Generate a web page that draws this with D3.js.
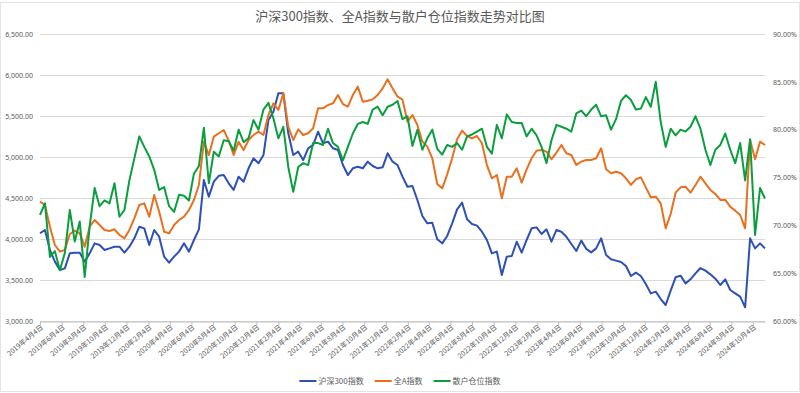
<!DOCTYPE html>
<html>
<head>
<meta charset="utf-8">
<script src="https://cdn.jsdelivr.net/npm/d3@7"></script>
<style>
  body { margin: 0; background: #fff; }
  text { font-family: "Noto Sans CJK SC", "Noto Sans", sans-serif; }
</style>
</head>
<body>
<svg id="chart" width="800" height="393"></svg>
<script>
// biweekly readings, first point 2019-04-04
const startDate = '2019-04-04';
const stepDays = 14;

const hs300 = [
  4070, 4110, 3866, 3724, 3622, 3642, 3825, 3833, 3833, 3724,
  3825, 3947, 3927, 3866, 3886, 3906, 3906, 3833, 3906, 4008,
  4150, 4130, 3927, 4110, 4028, 3785, 3711, 3785, 3846, 3947,
  3846, 3988, 4118, 4720, 4516, 4699, 4770, 4780, 4679, 4598,
  4760, 4699, 4862, 4984, 4923, 5024, 5451, 5553, 5776, 5776,
  5289, 5024, 5065, 4963, 5106, 5146, 5309, 5167, 5187, 5106,
  5085, 4902, 4780, 4862, 4882, 4862, 4943, 4890, 4862, 4874,
  5045, 4943, 4902, 4760, 4638, 4646, 4476, 4280, 4191, 4199,
  3996, 3947, 4037, 4191, 4362, 4443, 4240, 4183, 4163, 4089,
  3988, 3825, 3846, 3561, 3785, 3793, 3967, 3833, 3988, 4130,
  4142, 4061, 4118, 3967, 4110, 4089, 4028, 3939, 3854, 3980,
  3880, 3837, 3886, 4008, 3805, 3752, 3736, 3720, 3671, 3549,
  3589, 3549, 3451, 3337, 3358, 3268, 3195, 3370, 3533, 3553,
  3459, 3508, 3581, 3646, 3614, 3569, 3516, 3439, 3508, 3378,
  3337, 3297, 3167, 4008, 3886, 3947, 3886
];

const allA = [
  4455, 4415, 4150, 3927, 3846, 3866, 4061, 4102, 4069, 3906,
  4150, 4232, 4171, 4110, 4098, 4118, 4049, 4008, 4110, 4252,
  4415, 4435, 4272, 4537, 4333, 4089, 4069, 4171, 4232, 4272,
  4354, 4476, 4659, 5187, 5024, 5248, 5290, 5329, 5199, 5024,
  5187, 5085, 5207, 5268, 5309, 5268, 5512, 5654, 5573, 5776,
  5370, 5207, 5337, 5268, 5289, 5350, 5594, 5594, 5634, 5654,
  5756, 5646, 5614, 5756, 5858, 5675, 5687, 5703, 5756, 5837,
  5947, 5837, 5736, 5700, 5431, 5512, 5390, 5187, 5126, 4984,
  4671, 4618, 4789, 4984, 5215, 5321, 5256, 5228, 5256, 5167,
  4902, 4740, 4780, 4496, 4760, 4760, 4862, 4687, 4850, 4984,
  5077, 5085, 5065, 4972, 5053, 5146, 5045, 5024, 4902, 4943,
  4963, 4963, 4984, 5106, 4850, 4801, 4821, 4801, 4740, 4659,
  4728, 4752, 4630, 4508, 4516, 4435, 4130, 4305, 4565, 4630,
  4638, 4565, 4659, 4760, 4679, 4598, 4549, 4476, 4476, 4394,
  4346, 4293, 4130, 5207, 4972, 5187, 5146
];

// percent, right axis
const retailPos = [
  71.1, 72.3, 66.7, 67.3, 65.3, 67.1, 71.6, 68.3, 70.4, 64.6,
  69.9, 73.9, 72.0, 72.6, 72.3, 74.4, 70.9, 71.6, 74.7, 77.0,
  79.3, 78.2, 77.2, 75.8, 73.7, 74.0, 72.0, 71.4, 73.2, 73.1,
  72.6, 75.4, 76.2, 80.2, 74.4, 77.7, 77.2, 78.9, 78.8, 77.8,
  80.0, 78.7, 79.1, 81.0, 80.0, 82.1, 82.8, 81.2, 79.1, 80.3,
  76.1, 73.5, 76.1, 76.5, 76.3, 78.6, 78.6, 78.4, 80.1, 78.6,
  78.2, 76.8, 78.2, 79.6, 80.6, 80.8, 80.6, 82.1, 82.4, 81.5,
  82.4, 82.6, 83.0, 81.1, 81.4, 78.3, 80.0, 77.9, 79.1, 80.0,
  78.0, 77.4, 78.4, 78.2, 78.6, 77.9, 79.3, 79.5, 79.8, 80.1,
  78.2, 77.5, 80.5, 79.1, 81.6, 80.8, 80.7, 80.7, 79.3, 80.1,
  79.4, 78.2, 76.5, 78.9, 80.5, 80.3, 80.1, 79.8, 81.7, 82.0,
  81.4, 82.1, 82.6, 81.4, 81.5, 80.0, 81.1, 83.0, 83.6, 83.1,
  82.1, 82.2, 83.4, 82.4, 85.0, 80.8, 78.2, 80.1, 79.4, 80.0,
  79.8, 80.3, 81.4, 80.1, 77.9, 76.3, 77.9, 78.4, 79.6, 77.9,
  76.5, 78.6, 74.7, 79.0, 69.0, 73.9, 72.8
];

const tickDates = [
  '2019-04-04', '2019-06-04', '2019-08-04', '2019-10-04', '2019-12-04',
  '2020-02-04', '2020-04-04', '2020-06-04', '2020-08-04', '2020-10-04', '2020-12-04',
  '2021-02-04', '2021-04-04', '2021-06-04', '2021-08-04', '2021-10-04', '2021-12-04',
  '2022-02-04', '2022-04-04', '2022-06-04', '2022-08-04', '2022-10-04', '2022-12-04',
  '2023-02-04', '2023-04-04', '2023-06-04', '2023-08-04', '2023-10-04', '2023-12-04',
  '2024-02-04', '2024-04-04', '2024-06-04', '2024-08-04', '2024-10-04'
];

const leftTicks = [3000, 3500, 4000, 4500, 5000, 5500, 6000, 6500];
const rightTicks = [60, 65, 70, 75, 80, 85, 90];

const seriesNames = ['沪深300指数', '全A指数', '散户仓位指数'];
const seriesColors = ['#2c50b4', '#e8701f', '#0a9e3e'];

const parse = d3.timeParse('%Y-%m-%d');
const t0 = parse(startDate);
const dates = hs300.map((_, i) => d3.timeDay.offset(t0, i * stepDays));

const svg = d3.select('#chart');
const plot = { left: 40, right: 765, top: 34, bottom: 321 };

// faint chart border
svg.append('rect')
  .attr('x', 0.5).attr('y', 2.5)
  .attr('width', 799).attr('height', 389)
  .attr('fill', 'none').attr('stroke', '#e3e3e3');

const x = d3.scaleTime()
  .domain([t0, dates[dates.length - 1]])
  .range([plot.left, plot.right]);
const yL = d3.scaleLinear().domain([3000, 6500]).range([plot.bottom, plot.top]);
const yR = d3.scaleLinear().domain([60, 90]).range([plot.bottom, plot.top]);

// title
svg.append('text')
  .attr('x', 400).attr('y', 21)
  .attr('text-anchor', 'middle')
  .attr('font-size', 13).attr('fill', '#595959')
  .text('沪深300指数、全A指数与散户仓位指数走势对比图');

// gridlines
svg.append('g')
  .selectAll('line')
  .data(leftTicks)
  .join('line')
  .attr('x1', plot.left).attr('x2', plot.right)
  .attr('y1', d => Math.round(yL(d)) + 0.5).attr('y2', d => Math.round(yL(d)) + 0.5)
  .attr('stroke', '#d9d9d9').attr('stroke-width', 1);

// left axis
const gl = svg.append('g')
  .attr('transform', `translate(${plot.left},0)`)
  .call(d3.axisLeft(yL).tickValues(leftTicks).tickFormat(d3.format(',.2f')).tickSize(0).tickPadding(7));
gl.select('.domain').remove();
gl.selectAll('text').attr('font-size', 7).attr('fill', '#595959')
  .style('font-family', '"Noto Sans", sans-serif');

// right axis
const gr = svg.append('g')
  .attr('transform', `translate(${plot.right},0)`)
  .call(d3.axisRight(yR).tickValues(rightTicks).tickFormat(d => d.toFixed(2) + '%').tickSize(0).tickPadding(8));
gr.select('.domain').remove();
gr.selectAll('text').attr('font-size', 7).attr('fill', '#595959')
  .style('font-family', '"Noto Sans", sans-serif');

// x axis
const fmt = d => `${d.getFullYear()}年${d.getMonth() + 1}月${d.getDate()}日`;
const gx = svg.append('g')
  .attr('transform', `translate(0,${plot.bottom + 0.5})`)
  .call(d3.axisBottom(x).tickValues(tickDates.map(parse)).tickFormat(fmt).tickSize(4).tickSizeOuter(0));
gx.select('.domain').attr('stroke', '#bfbfbf');
gx.selectAll('.tick line').attr('stroke', '#bfbfbf');
gx.selectAll('text')
  .attr('font-size', 7).attr('fill', '#595959')
  .attr('text-anchor', 'end')
  .attr('x', 2).attr('y', 0).attr('dy', '0.35em')
  .attr('transform', 'translate(0,6) rotate(-40)');

// lines
const lineL = d3.line().x((d, i) => x(dates[i])).y(d => yL(d));
const lineR = d3.line().x((d, i) => x(dates[i])).y(d => yR(d));

[[hs300, lineL], [allA, lineL], [retailPos, lineR]].forEach(([vals, gen], k) => {
  svg.append('path')
    .attr('d', gen(vals))
    .attr('fill', 'none')
    .attr('stroke', seriesColors[k])
    .attr('stroke-width', 2)
    .attr('stroke-linejoin', 'round');
});

// legend
const legend = svg.append('g').attr('transform', 'translate(0,381)');
let cx = 0;
seriesNames.forEach((name, k) => {
  const g = legend.append('g');
  g.append('line').attr('x1', 0).attr('x2', 17).attr('y1', 0).attr('y2', 0)
    .attr('stroke', seriesColors[k]).attr('stroke-width', 2);
  const t = g.append('text').attr('x', 19).attr('dy', '0.35em')
    .attr('font-size', 8).attr('fill', '#595959').text(name);
  const w = 19 + t.node().getComputedTextLength();
  g.attr('transform', `translate(${cx},0)`);
  cx += w + 11;
});
const total = cx - 11;
legend.attr('transform', `translate(${400 - total / 2},381)`);
</script>
</body>
</html>
